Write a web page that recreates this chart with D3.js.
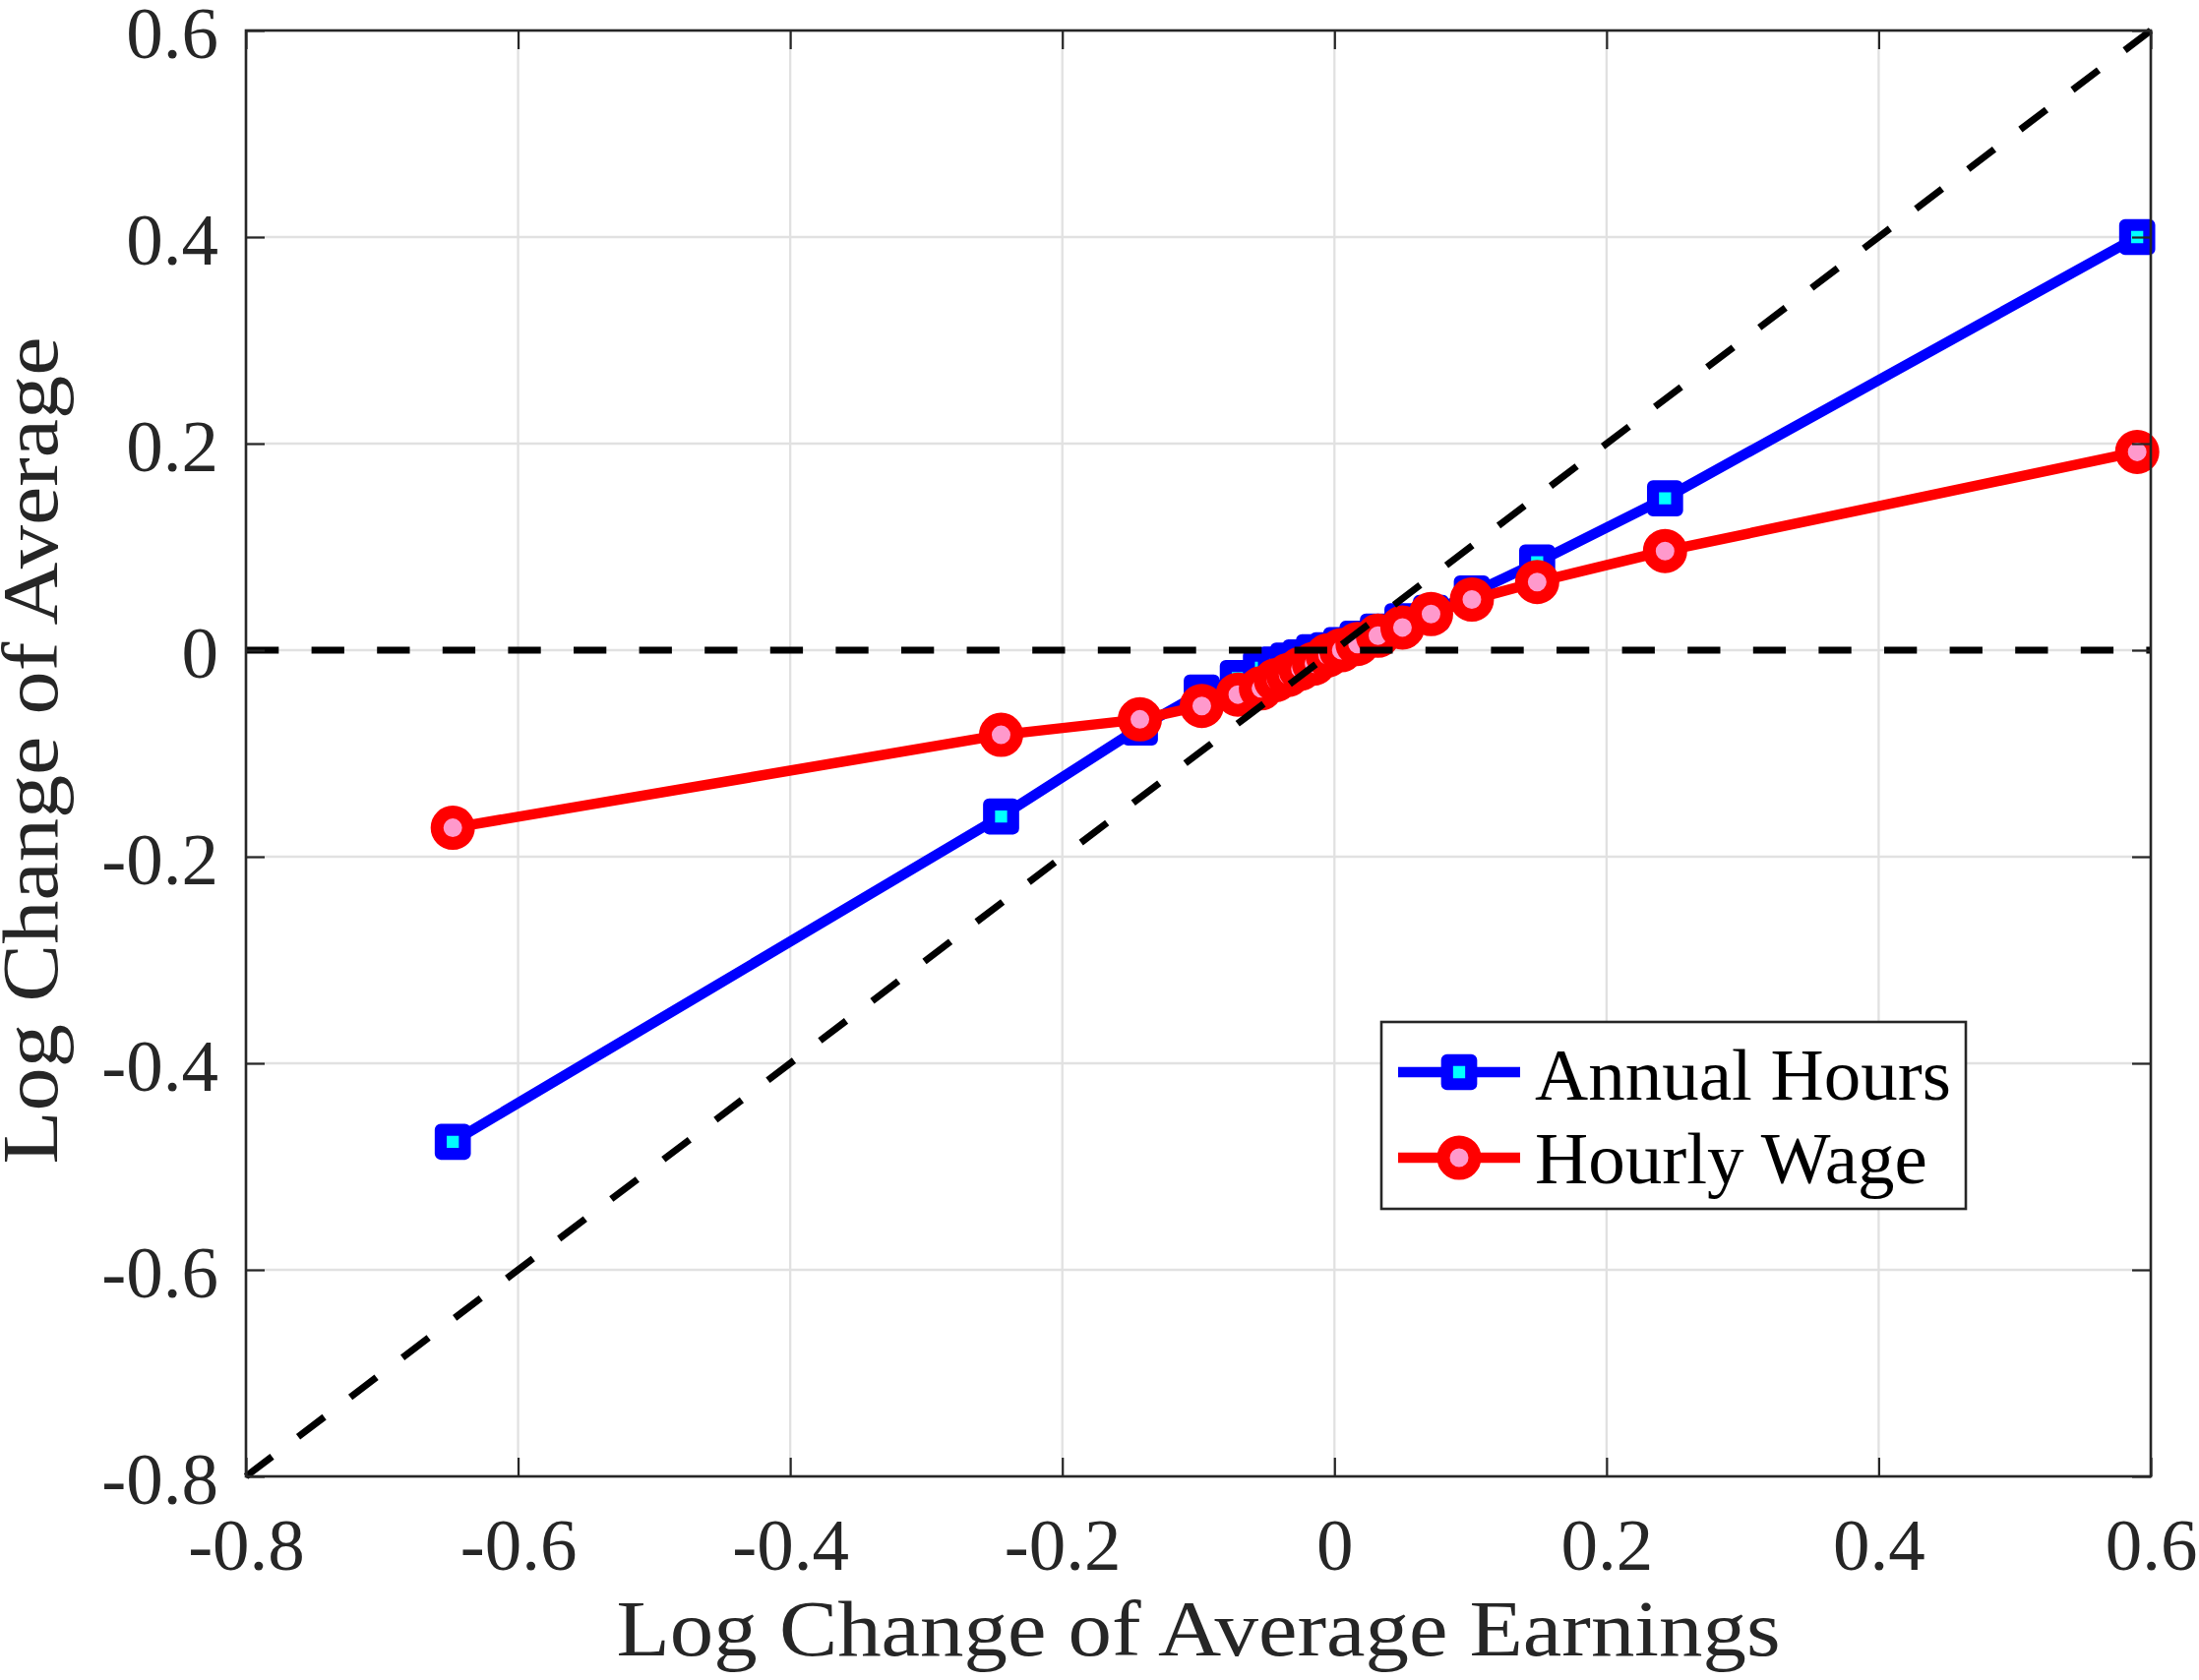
<!DOCTYPE html>
<html>
<head>
<meta charset="utf-8">
<script src="https://cdn.jsdelivr.net/npm/d3@7"></script>
<style>
  html, body { margin: 0; padding: 0; background: #ffffff; }
  svg { display: block; }
</style>
</head>
<body>
<svg id="chart" width="2235" height="1708"></svg>
<script>
// ---- data ----
const earnings    = [-0.648, -0.245, -0.143, -0.0975, -0.071, -0.054, -0.043, -0.034, -0.025, -0.015, -0.005, 0.005, 0.017, 0.032, 0.050, 0.071, 0.101, 0.149, 0.243, 0.590];
const annualHours = [-0.476, -0.161, -0.075, -0.041, -0.027, -0.017, -0.014, -0.010, -0.007, -0.002, 0.000, 0.005, 0.011, 0.018, 0.028, 0.036, 0.055, 0.085, 0.147, 0.400];
const hourlyWage  = [-0.172, -0.082, -0.067, -0.054, -0.043, -0.037, -0.029, -0.024, -0.018, -0.013, -0.005, 0.000, 0.006, 0.014, 0.022, 0.035, 0.049, 0.066, 0.096, 0.192];
const xTicks = [-0.8, -0.6, -0.4, -0.2, 0, 0.2, 0.4, 0.6];
const yTicks = [-0.8, -0.6, -0.4, -0.2, 0, 0.2, 0.4, 0.6];
const xDomain = [-0.8, 0.6];
const yDomain = [-0.8, 0.6];
const seriesNames = ["Annual Hours", "Hourly Wage"];
const xLabel = "Log Change of Average Earnings";
const yLabel = "Log Change of Average";

// ---- layout ----
const L = 250, R = 2186, T = 31, B = 1501;
const FONT = "'Liberation Serif', 'Times New Roman', Times, serif";
const AX = "#262626";

const svg = d3.select("#chart");
const x = d3.scaleLinear().domain(xDomain).range([L, R]);
const y = d3.scaleLinear().domain(yDomain).range([B, T]);
const fmt = d => (Math.abs(d) < 1e-9 ? "0" : d3.format(".1f")(d).replace("\u2212", "-"));

// grid
const grid = svg.append("g");
grid.selectAll("line.gx").data(xTicks).enter().append("line")
  .attr("x1", d => x(d)).attr("x2", d => x(d)).attr("y1", T).attr("y2", B)
  .attr("stroke", "#e1e1e1").attr("stroke-width", 2.3);
grid.selectAll("line.gy").data(yTicks).enter().append("line")
  .attr("x1", L).attr("x2", R).attr("y1", d => y(d)).attr("y2", d => y(d))
  .attr("stroke", "#e1e1e1").attr("stroke-width", 2.3);

const pts = (ys) => earnings.map((e, i) => [e, ys[i]]);
const line = d3.line().x(d => x(d[0])).y(d => y(d[1]));

// Annual Hours (blue, squares)
const SQ = 24.5;
svg.append("path").datum(pts(annualHours)).attr("d", line)
  .attr("fill", "none").attr("stroke", "#0000ff").attr("stroke-width", 10.5).attr("stroke-linejoin", "round");
svg.append("g").selectAll("rect").data(pts(annualHours)).enter().append("rect")
  .attr("x", d => x(d[0]) - SQ / 2).attr("y", d => y(d[1]) - SQ / 2)
  .attr("width", SQ).attr("height", SQ)
  .attr("fill", "#00ffff").attr("stroke", "#0000ff").attr("stroke-width", 12.2).attr("stroke-linejoin", "round");

// Hourly Wage (red, circles)
const CR = 16;
svg.append("path").datum(pts(hourlyWage)).attr("d", line)
  .attr("fill", "none").attr("stroke", "#ff0000").attr("stroke-width", 10.5).attr("stroke-linejoin", "round");
svg.append("g").selectAll("circle").data(pts(hourlyWage)).enter().append("circle")
  .attr("cx", d => x(d[0])).attr("cy", d => y(d[1])).attr("r", CR)
  .attr("fill", "#ff99cc").attr("stroke", "#ff0000").attr("stroke-width", 13);

// dashed reference lines (45-degree and zero)
svg.append("line")
  .attr("x1", x(xDomain[0])).attr("y1", y(yDomain[0])).attr("x2", x(xDomain[1])).attr("y2", y(yDomain[1]))
  .attr("stroke", "#000").attr("stroke-width", 7).attr("stroke-dasharray", "33.3,33.3");
svg.append("line")
  .attr("x1", x(xDomain[0])).attr("y1", y(0)).attr("x2", x(xDomain[1])).attr("y2", y(0))
  .attr("stroke", "#000").attr("stroke-width", 7).attr("stroke-dasharray", "33.3,33.3");

// axes (inward ticks on all four sides)
const TK = 19;
const styleAxis = g => {
  g.select(".domain").remove();
  g.selectAll(".tick line").attr("stroke", AX).attr("stroke-width", 2.2);
};
const gb = svg.append("g").attr("transform", `translate(0,${B})`)
  .call(d3.axisBottom(x).tickValues(xTicks).tickSize(-TK).tickFormat(fmt)).call(styleAxis);
gb.selectAll(".tick text").attr("y", 0).attr("dy", 95)
  .attr("font-family", FONT).attr("font-size", 75).attr("fill", AX);
const gl = svg.append("g").attr("transform", `translate(${L},0)`)
  .call(d3.axisLeft(y).tickValues(yTicks).tickSize(-TK).tickFormat(fmt)).call(styleAxis);
gl.selectAll(".tick text").attr("x", -28).attr("dy", "0.36em")
  .attr("font-family", FONT).attr("font-size", 75).attr("fill", AX).attr("text-anchor", "end");
svg.append("g").attr("transform", `translate(0,${T})`)
  .call(d3.axisTop(x).tickValues(xTicks).tickSize(-TK).tickFormat("")).call(styleAxis);
svg.append("g").attr("transform", `translate(${R},0)`)
  .call(d3.axisRight(y).tickValues(yTicks).tickSize(-TK).tickFormat("")).call(styleAxis);

// box
svg.append("rect").attr("x", L).attr("y", T).attr("width", R - L).attr("height", B - T)
  .attr("fill", "none").attr("stroke", AX).attr("stroke-width", 2.6);

// axis labels
svg.append("text").attr("x", (L + R) / 2).attr("y", 1683).attr("text-anchor", "middle")
  .attr("font-family", FONT).attr("font-size", 80).attr("fill", AX)
  .attr("textLength", 1183).attr("lengthAdjust", "spacingAndGlyphs").text(xLabel);
svg.append("text").attr("transform", `translate(58,${(T + B) / 2 - 3}) rotate(-90)`).attr("text-anchor", "middle")
  .attr("font-family", FONT).attr("font-size", 80).attr("fill", AX)
  .attr("textLength", 841).attr("lengthAdjust", "spacingAndGlyphs").text(yLabel);

// legend
const lg = svg.append("g");
lg.append("rect").attr("x", 1404).attr("y", 1039).attr("width", 594).attr("height", 190)
  .attr("fill", "#fff").attr("stroke", AX).attr("stroke-width", 2.6);
const rows = [
  { name: seriesNames[0], cy: 1090, base: 1118, color: "#0000ff", marker: "square" },
  { name: seriesNames[1], cy: 1177, base: 1203, color: "#ff0000", marker: "circle" }
];
rows.forEach(r => {
  lg.append("line").attr("x1", 1421).attr("x2", 1545).attr("y1", r.cy).attr("y2", r.cy)
    .attr("stroke", r.color).attr("stroke-width", 10.5);
  if (r.marker === "square") {
    lg.append("rect").attr("x", 1483 - SQ / 2).attr("y", r.cy - SQ / 2).attr("width", SQ).attr("height", SQ)
      .attr("fill", "#00ffff").attr("stroke", "#0000ff").attr("stroke-width", 12.2).attr("stroke-linejoin", "round");
  } else {
    lg.append("circle").attr("cx", 1483).attr("cy", r.cy).attr("r", CR)
      .attr("fill", "#ff99cc").attr("stroke", "#ff0000").attr("stroke-width", 13);
  }
  lg.append("text").attr("x", 1560).attr("y", r.base)
    .attr("font-family", FONT).attr("font-size", 75).attr("fill", "#000").text(r.name);
});
</script>
</body>
</html>
